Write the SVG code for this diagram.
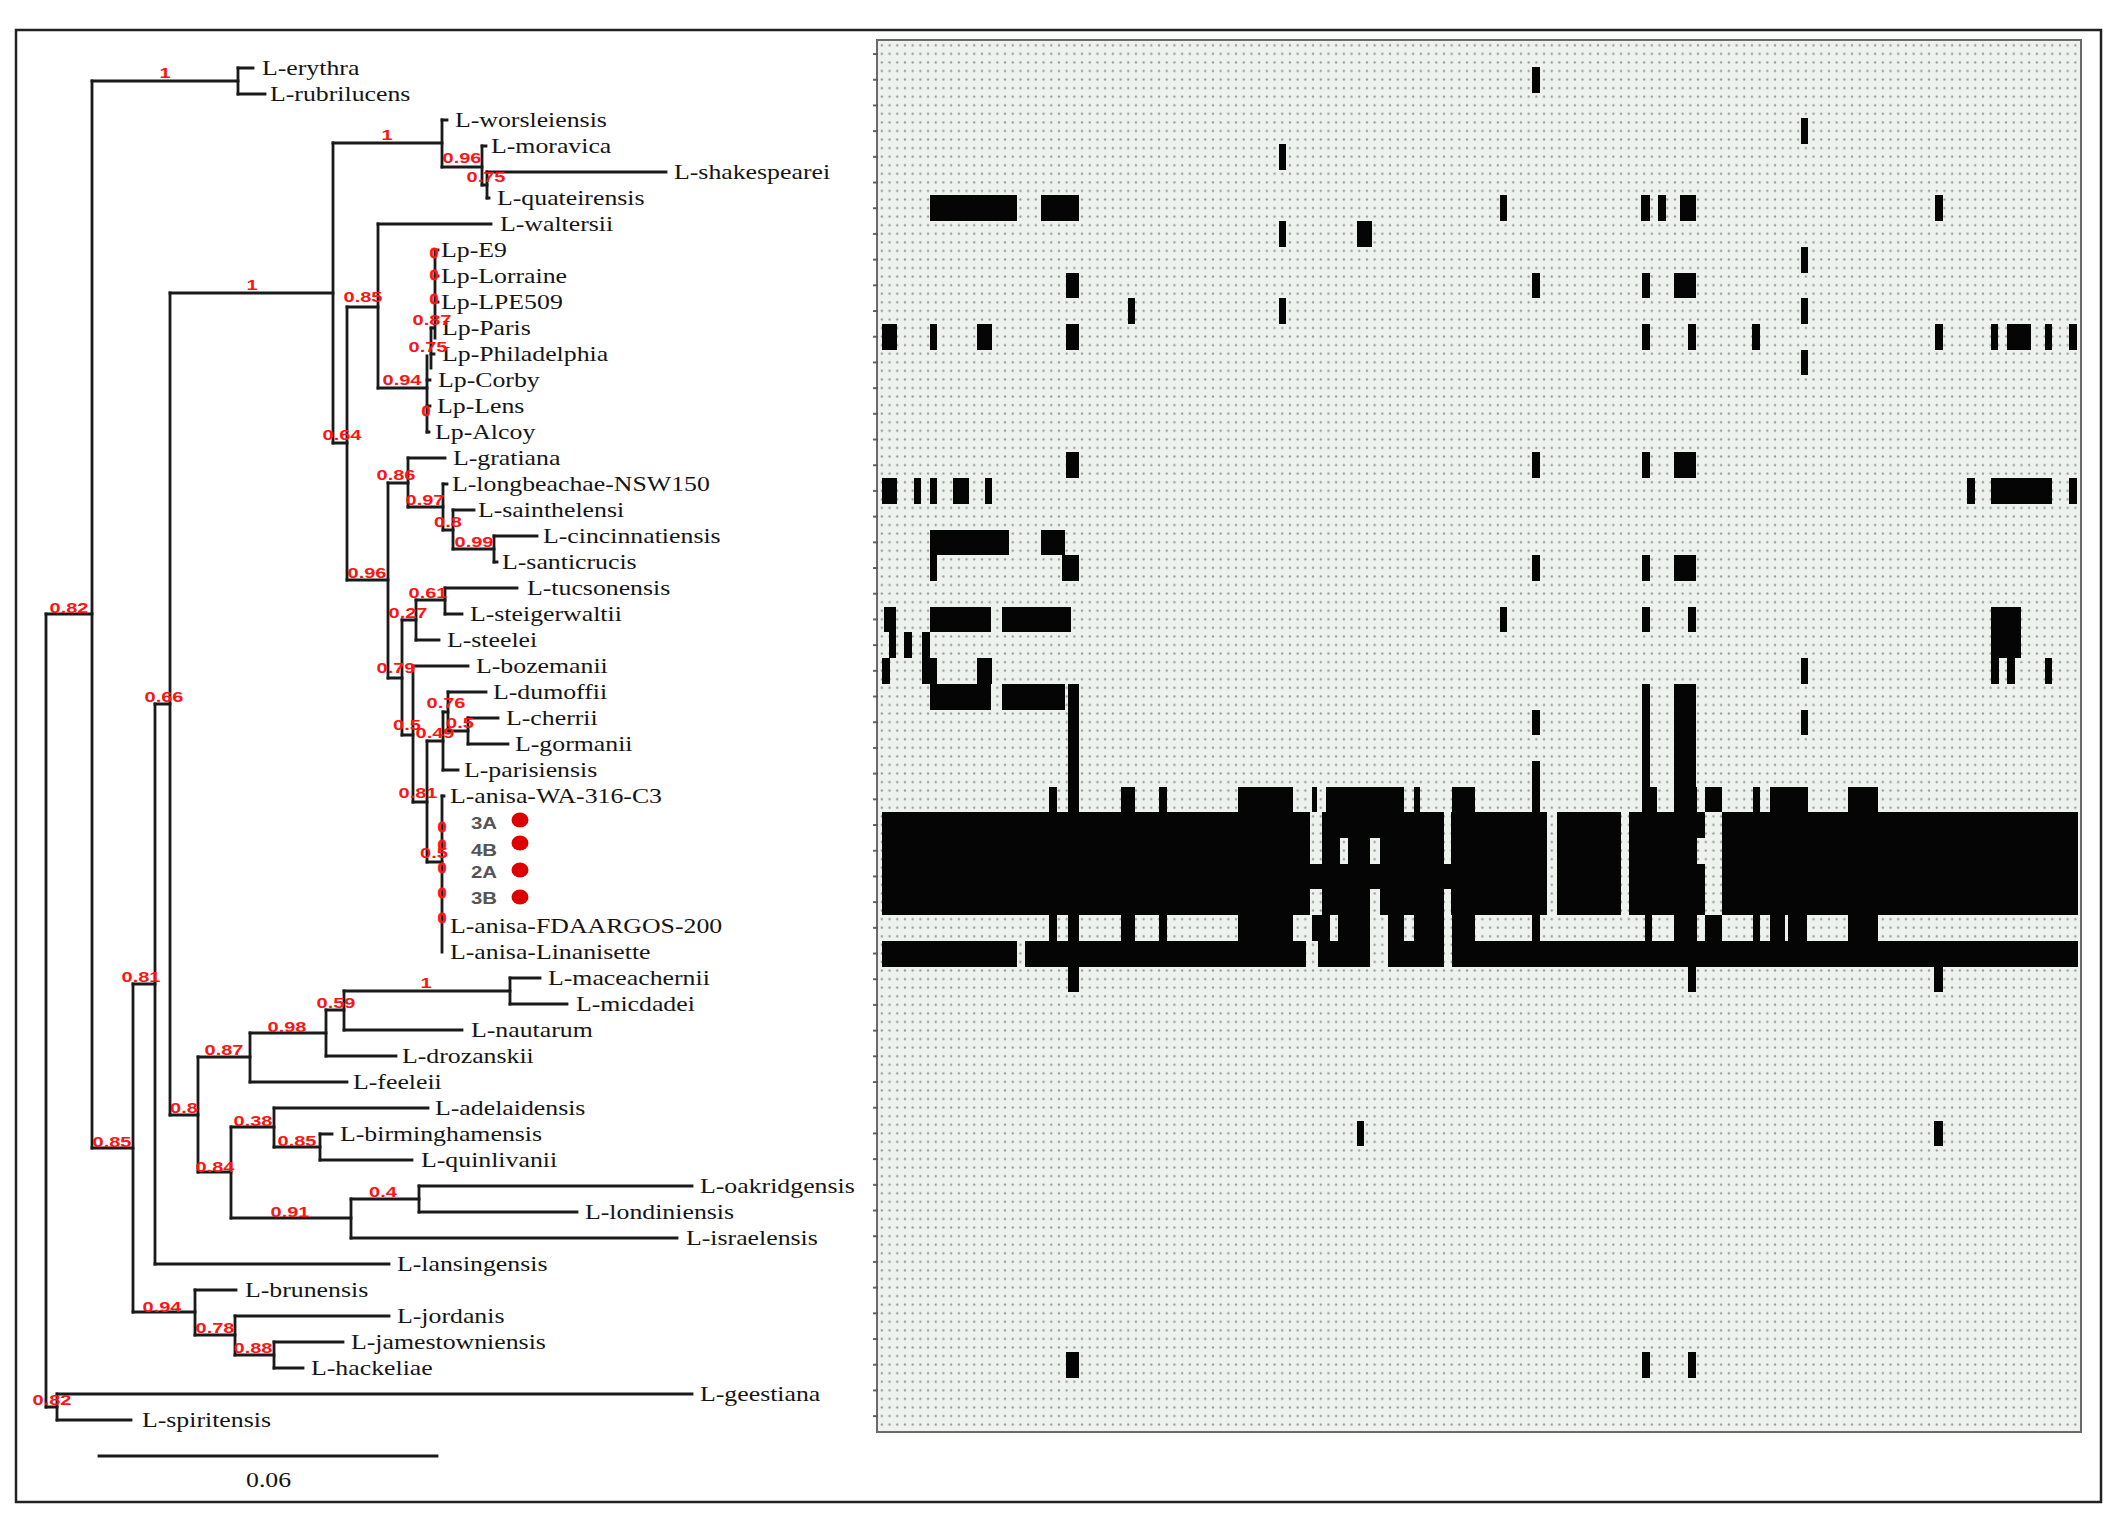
<svg xmlns="http://www.w3.org/2000/svg" width="2109" height="1515" viewBox="0 0 2109 1515">
<style>
.tip{font-family:"Liberation Serif","Times New Roman",serif;font-size:20px;fill:#151515;transform-box:fill-box;transform-origin:0 50%;transform:scaleX(1.29)}
.sup{font-family:"Liberation Sans",Arial,sans-serif;font-weight:bold;font-size:15.5px;fill:#ff1414;text-anchor:middle;transform-box:fill-box;transform-origin:50% 50%;transform:scaleX(1.29)}
.z{font-family:"Liberation Sans",Arial,sans-serif;font-weight:bold;font-size:15.5px;fill:#ff1414;stroke:#ff1414;stroke-width:0.8;text-anchor:middle}
.iso{font-family:"Liberation Sans",Arial,sans-serif;font-weight:bold;font-size:17px;fill:#555;transform-box:fill-box;transform-origin:0 50%;transform:scaleX(1.2)}
.br{fill:none;stroke:#1a1a1a;stroke-width:2.8;stroke-linecap:square}
.bar{fill:#050505}
.gap{fill:url(#dots)}
.dot{fill:#dd0000}
</style>
<defs>
<pattern id="dots" width="7.7" height="8.567" patternUnits="userSpaceOnUse" x="878" y="41">
<rect width="7.7" height="8.567" fill="#eef2ee"/>
<circle cx="3.85" cy="4.3" r="1.15" fill="#959a95"/>
</pattern>
<pattern id="ticks" width="6" height="25.7" patternUnits="userSpaceOnUse" x="873" y="41.15">
<rect x="0" y="12" width="5" height="1.8" fill="#555"/>
</pattern>
</defs>
<rect width="2109" height="1515" fill="#fff"/>
<rect x="16" y="30" width="2085" height="1472" fill="none" stroke="#222" stroke-width="2.5"/>

<g id="heatmap">
<rect x="877" y="40" width="1204" height="1392" fill="url(#dots)" stroke="#6a6a6a" stroke-width="2"/>
<rect x="873" y="41" width="5" height="1390" fill="url(#ticks)"/>
<g class="bar">
<rect x="1532" y="67" width="8" height="26"/>
<rect x="1801" y="118" width="7" height="26"/>
<rect x="1279" y="144" width="7" height="26"/>
<rect x="930" y="195" width="87" height="26"/><rect x="1041" y="195" width="38" height="26"/><rect x="1500" y="195" width="7" height="26"/><rect x="1641" y="195" width="9" height="26"/><rect x="1658" y="195" width="8" height="26"/><rect x="1680" y="195" width="16" height="26"/><rect x="1935" y="195" width="8" height="26"/>
<rect x="1279" y="221" width="7" height="26"/><rect x="1357" y="221" width="15" height="26"/>
<rect x="1801" y="247" width="7" height="26"/>
<rect x="1066" y="273" width="13" height="25"/><rect x="1532" y="273" width="8" height="25"/><rect x="1642" y="273" width="8" height="25"/><rect x="1674" y="273" width="22" height="25"/>
<rect x="1128" y="298" width="7" height="26"/><rect x="1279" y="298" width="7" height="26"/><rect x="1801" y="298" width="7" height="26"/>
<rect x="882" y="324" width="15" height="26"/><rect x="930" y="324" width="7" height="26"/><rect x="977" y="324" width="15" height="26"/><rect x="1066" y="324" width="13" height="26"/><rect x="1642" y="324" width="8" height="26"/><rect x="1688" y="324" width="8" height="26"/><rect x="1752" y="324" width="8" height="26"/><rect x="1935" y="324" width="8" height="26"/><rect x="1991" y="324" width="7" height="26"/><rect x="2007" y="324" width="24" height="26"/><rect x="2045" y="324" width="7" height="26"/><rect x="2069" y="324" width="8" height="26"/>
<rect x="1801" y="350" width="7" height="25"/>
<rect x="1066" y="452" width="13" height="26"/><rect x="1532" y="452" width="8" height="26"/><rect x="1642" y="452" width="8" height="26"/><rect x="1674" y="452" width="22" height="26"/>
<rect x="882" y="478" width="15" height="26"/><rect x="914" y="478" width="7" height="26"/><rect x="930" y="478" width="7" height="26"/><rect x="953" y="478" width="16" height="26"/><rect x="985" y="478" width="7" height="26"/><rect x="1967" y="478" width="8" height="26"/><rect x="1991" y="478" width="61" height="26"/><rect x="2069" y="478" width="8" height="26"/>
<rect x="930" y="530" width="79" height="25"/><rect x="1041" y="530" width="24" height="25"/>
<rect x="930" y="530" width="7" height="51"/><rect x="1062" y="555" width="17" height="26"/><rect x="1532" y="555" width="8" height="26"/><rect x="1642" y="555" width="8" height="26"/><rect x="1674" y="555" width="22" height="26"/>
<rect x="884" y="607" width="12" height="25"/><rect x="930" y="607" width="61" height="25"/><rect x="1002" y="607" width="69" height="25"/><rect x="1500" y="607" width="7" height="25"/><rect x="1642" y="607" width="8" height="25"/><rect x="1688" y="607" width="8" height="25"/><rect x="1991" y="607" width="30" height="51"/>
<rect x="889" y="632" width="7" height="26"/><rect x="904" y="632" width="8" height="26"/><rect x="922" y="632" width="8" height="26"/>
<rect x="882" y="658" width="8" height="26"/><rect x="922" y="658" width="15" height="26"/><rect x="977" y="658" width="15" height="26"/><rect x="1801" y="658" width="7" height="26"/><rect x="1991" y="658" width="8" height="26"/><rect x="2007" y="658" width="8" height="26"/><rect x="2045" y="658" width="7" height="26"/>
<rect x="930" y="684" width="61" height="26"/><rect x="1002" y="684" width="63" height="26"/><rect x="1642" y="684" width="8" height="103"/><rect x="1674" y="684" width="22" height="103"/>
<rect x="1068" y="684" width="11" height="308"/>
<rect x="1532" y="710" width="8" height="25"/><rect x="1801" y="710" width="7" height="25"/>
<rect x="1532" y="761" width="8" height="51"/>
<rect x="1049" y="787" width="8" height="25"/><rect x="1121" y="787" width="14" height="25"/><rect x="1159" y="787" width="8" height="25"/><rect x="1238" y="787" width="55" height="25"/><rect x="1312" y="787" width="5" height="25"/><rect x="1326" y="787" width="78" height="25"/><rect x="1414" y="787" width="6" height="25"/><rect x="1452" y="787" width="23" height="25"/><rect x="1642" y="787" width="15" height="25"/><rect x="1674" y="787" width="23" height="25"/><rect x="1705" y="787" width="17" height="25"/><rect x="1753" y="787" width="7" height="25"/><rect x="1770" y="787" width="38" height="25"/><rect x="1848" y="787" width="30" height="25"/>
<rect x="882" y="812" width="1196" height="103"/>
<rect x="1049" y="915" width="8" height="26"/><rect x="1121" y="915" width="14" height="26"/><rect x="1159" y="915" width="8" height="26"/><rect x="1238" y="915" width="55" height="26"/><rect x="1312" y="915" width="18" height="26"/><rect x="1338" y="915" width="32" height="26"/><rect x="1388" y="915" width="16" height="26"/><rect x="1414" y="915" width="30" height="26"/><rect x="1452" y="915" width="23" height="26"/><rect x="1532" y="915" width="8" height="26"/><rect x="1645" y="915" width="7" height="26"/><rect x="1674" y="915" width="23" height="26"/><rect x="1705" y="915" width="17" height="26"/><rect x="1753" y="915" width="7" height="26"/><rect x="1770" y="915" width="15" height="26"/><rect x="1788" y="915" width="19" height="26"/><rect x="1848" y="915" width="30" height="26"/>
<rect x="882" y="941" width="135" height="26"/><rect x="1025" y="941" width="281" height="26"/><rect x="1318" y="941" width="52" height="26"/><rect x="1388" y="941" width="56" height="26"/><rect x="1452" y="941" width="626" height="26"/>
<rect x="1688" y="967" width="8" height="25"/><rect x="1934" y="967" width="9" height="25"/>
<rect x="1357" y="1121" width="7" height="25"/><rect x="1934" y="1121" width="9" height="25"/>
<rect x="1066" y="1352" width="13" height="26"/><rect x="1642" y="1352" width="8" height="26"/><rect x="1688" y="1352" width="8" height="26"/>
</g>
<g class="gap">
<rect x="1310" y="812" width="12" height="52"/><rect x="1310" y="889" width="12" height="26"/>
<rect x="1340" y="838" width="8" height="26"/>
<rect x="1370" y="838" width="10" height="26"/><rect x="1370" y="889" width="10" height="26"/>
<rect x="1444" y="812" width="7" height="52"/><rect x="1444" y="889" width="7" height="26"/>
<rect x="1547" y="812" width="10" height="103"/>
<rect x="1621" y="812" width="8" height="103"/>
<rect x="1705" y="812" width="17" height="103"/><rect x="1697" y="838" width="8" height="26"/>
</g>
</g>

<g id="connectors">
<path class="br" d="M46 614V1407M57 1394V1420M92 81V1148M238 68V94M133 984V1312M155 704V1264M170 293V1115M333 143V443M442 120V167M482 146V185M487 172V198M347 307V580M378 224V388M388 483V678M408 458V507M443 484V530M453 510V549M494 536V562M402 620V735M416 600V640M445 588V614M413 666V802M427 741V862M443 712V770M448 692V731M468 718V744M442 796V952M435 250V338M431 328V368M427 356V432M198 1057V1172M250 1033V1082M326 1010V1056M344 991V1030M510 978V1004M231 1127V1218M274 1108V1147M320 1134V1160M351 1199V1238M419 1186V1212M195 1290V1335M235 1316V1355M274 1342V1368"/>
<path class="br" d="M46 614H92M46 1407H57M92 81H238M92 1148H133M133 984H155M133 1312H195M155 704H170M170 293H333M170 1115H198M333 143H442M333 443H347M442 167H482M482 185H487M347 307H378M347 580H388M378 388H427M388 483H408M388 678H402M408 507H443M443 530H453M453 549H494M402 620H416M402 735H413M416 600H445M413 802H427M427 741H443M427 862H442M443 712H448M448 731H468M198 1057H250M198 1172H231M250 1033H326M326 1010H344M344 991H510M231 1127H274M231 1218H351M274 1147H320M351 1199H419M195 1335H235M235 1355H274"/>
<path class="br" d="M238 68H253M238 94H265M442 120H447M482 146H486M487 172H666M487 198H489M378 224H491M435 250H438M435 276H438M435 302H438M431 328H434M431 354H434M427 380H430M427 406H430M427 432H429M408 458H445M443 484H447M453 510H474M494 536H537M494 562H497M445 588H517M445 614H462M416 640H439M413 666H468M448 692H486M468 718H498M468 744H508M443 770H458M442 796H444M510 978H540M510 1004H567M344 1030H462M326 1056H396M250 1082H347M274 1108H428M320 1134H332M320 1160H412M419 1186H692M419 1212H577M351 1238H677M155 1264H389M195 1290H236M235 1316H389M274 1342H343M274 1368H303M57 1394H692M57 1420H131"/>
<path class="br" d="M99 1456H437"/>
</g>

<g id="tips">
<g id="t1"><text class="tip" x="262" y="75">L-erythra</text></g>
<g id="t2"><text class="tip" x="270" y="101">L-rubrilucens</text></g>
<g id="t3"><text class="tip" x="455" y="127">L-worsleiensis</text></g>
<g id="t4"><text class="tip" x="491" y="153">L-moravica</text></g>
<g id="t5"><text class="tip" x="674" y="179">L-shakespearei</text></g>
<g id="t6"><text class="tip" x="497" y="205">L-quateirensis</text></g>
<g id="t7"><text class="tip" x="500" y="231">L-waltersii</text></g>
<g id="t8"><text class="tip" x="441" y="257">Lp-E9</text></g>
<g id="t9"><text class="tip" x="441" y="283">Lp-Lorraine</text></g>
<g id="t10"><text class="tip" x="441" y="309">Lp-LPE509</text></g>
<g id="t11"><text class="tip" x="442" y="335">Lp-Paris</text></g>
<g id="t12"><text class="tip" x="442" y="361">Lp-Philadelphia</text></g>
<g id="t13"><text class="tip" x="438" y="387">Lp-Corby</text></g>
<g id="t14"><text class="tip" x="437" y="413">Lp-Lens</text></g>
<g id="t15"><text class="tip" x="435" y="439">Lp-Alcoy</text></g>
<g id="t16"><text class="tip" x="453" y="465">L-gratiana</text></g>
<g id="t17"><text class="tip" x="452" y="491">L-longbeachae-NSW150</text></g>
<g id="t18"><text class="tip" x="478" y="517">L-sainthelensi</text></g>
<g id="t19"><text class="tip" x="543" y="543">L-cincinnatiensis</text></g>
<g id="t20"><text class="tip" x="502" y="569">L-santicrucis</text></g>
<g id="t21"><text class="tip" x="527" y="595">L-tucsonensis</text></g>
<g id="t22"><text class="tip" x="470" y="621">L-steigerwaltii</text></g>
<g id="t23"><text class="tip" x="447" y="647">L-steelei</text></g>
<g id="t24"><text class="tip" x="476" y="673">L-bozemanii</text></g>
<g id="t25"><text class="tip" x="493" y="699">L-dumoffii</text></g>
<g id="t26"><text class="tip" x="506" y="725">L-cherrii</text></g>
<g id="t27"><text class="tip" x="515" y="751">L-gormanii</text></g>
<g id="t28"><text class="tip" x="464" y="777">L-parisiensis</text></g>
<g id="t29"><text class="tip" x="450" y="803">L-anisa-WA-316-C3</text></g>
<g id="t30"><text class="iso" x="471" y="829">3A</text><ellipse class="dot" cx="520" cy="820" rx="8.5" ry="7.5"/></g>
<g id="t31"><text class="iso" x="471" y="856">4B</text><ellipse class="dot" cx="520" cy="843" rx="8.5" ry="7.5"/></g>
<g id="t32"><text class="iso" x="471" y="878">2A</text><ellipse class="dot" cx="520" cy="870" rx="8.5" ry="7.5"/></g>
<g id="t33"><text class="iso" x="471" y="904">3B</text><ellipse class="dot" cx="520" cy="897" rx="8.5" ry="7.5"/></g>
<g id="t34"><text class="tip" x="450" y="933">L-anisa-FDAARGOS-200</text></g>
<g id="t35"><text class="tip" x="450" y="959">L-anisa-Linanisette</text></g>
<g id="t36"><text class="tip" x="548" y="985">L-maceachernii</text></g>
<g id="t37"><text class="tip" x="576" y="1011">L-micdadei</text></g>
<g id="t38"><text class="tip" x="471" y="1037">L-nautarum</text></g>
<g id="t39"><text class="tip" x="402" y="1063">L-drozanskii</text></g>
<g id="t40"><text class="tip" x="353" y="1089">L-feeleii</text></g>
<g id="t41"><text class="tip" x="435" y="1115">L-adelaidensis</text></g>
<g id="t42"><text class="tip" x="340" y="1141">L-birminghamensis</text></g>
<g id="t43"><text class="tip" x="421" y="1167">L-quinlivanii</text></g>
<g id="t44"><text class="tip" x="700" y="1193">L-oakridgensis</text></g>
<g id="t45"><text class="tip" x="585" y="1219">L-londiniensis</text></g>
<g id="t46"><text class="tip" x="686" y="1245">L-israelensis</text></g>
<g id="t47"><text class="tip" x="397" y="1271">L-lansingensis</text></g>
<g id="t48"><text class="tip" x="245" y="1297">L-brunensis</text></g>
<g id="t49"><text class="tip" x="397" y="1323">L-jordanis</text></g>
<g id="t50"><text class="tip" x="351" y="1349">L-jamestowniensis</text></g>
<g id="t51"><text class="tip" x="311" y="1375">L-hackeliae</text></g>
<g id="t52"><text class="tip" x="700" y="1401">L-geestiana</text></g>
<g id="t53"><text class="tip" x="142" y="1427">L-spiritensis</text></g>
<g id="scale"><text class="tip" x="246" y="1487">0.06</text></g>
</g>

<g id="supports">
<g id="s1"><text class="sup" x="165" y="78">1</text></g>
<g id="s2"><text class="sup" x="387" y="140">1</text></g>
<g id="s3"><text class="sup" x="462" y="163">0.96</text></g>
<g id="s4"><text class="sup" x="486" y="182">0.75</text></g>
<g id="s5"><text class="sup" x="252" y="290">1</text></g>
<g id="s6"><text class="sup" x="363" y="302">0.85</text></g>
<g id="s7"><text class="z" x="434" y="258">0</text><text class="z" x="434" y="280">0</text><text class="z" x="434" y="304">0</text></g>
<g id="s8"><text class="sup" x="432" y="325">0.87</text></g>
<g id="s9"><text class="sup" x="428" y="352">0.75</text></g>
<g id="s10"><text class="sup" x="402" y="385">0.94</text></g>
<g id="s11"><text class="z" x="426" y="416">0</text></g>
<g id="s12"><text class="sup" x="342" y="440">0.64</text></g>
<g id="s13"><text class="sup" x="396" y="480">0.86</text></g>
<g id="s14"><text class="sup" x="425" y="505">0.97</text></g>
<g id="s15"><text class="sup" x="448" y="527">0.8</text></g>
<g id="s16"><text class="sup" x="474" y="547">0.99</text></g>
<g id="s17"><text class="sup" x="367" y="578">0.96</text></g>
<g id="s18"><text class="sup" x="428" y="598">0.61</text></g>
<g id="s19"><text class="sup" x="408" y="618">0.27</text></g>
<g id="s20"><text class="sup" x="396" y="673">0.79</text></g>
<g id="s21"><text class="sup" x="446" y="708">0.76</text></g>
<g id="s22"><text class="sup" x="407" y="730">0.5</text></g>
<g id="s23"><text class="sup" x="460" y="728">0.5</text></g>
<g id="s24"><text class="sup" x="435" y="738">0.49</text></g>
<g id="s25"><text class="sup" x="418" y="798">0.81</text></g>
<g id="s26"><text class="z" x="442" y="832">0</text><text class="z" x="442" y="850">0</text><text class="z" x="442" y="873">0</text><text class="z" x="442" y="898">0</text><text class="z" x="442" y="923">0</text></g>
<g id="s27"><text class="sup" x="434" y="858">0.5</text></g>
<g id="s28"><text class="sup" x="69" y="613">0.82</text></g>
<g id="s29"><text class="sup" x="164" y="702">0.66</text></g>
<g id="s30"><text class="sup" x="141" y="982">0.81</text></g>
<g id="s31"><text class="sup" x="426" y="988">1</text></g>
<g id="s32"><text class="sup" x="336" y="1008">0.59</text></g>
<g id="s33"><text class="sup" x="287" y="1032">0.98</text></g>
<g id="s34"><text class="sup" x="224" y="1055">0.87</text></g>
<g id="s35"><text class="sup" x="184" y="1113">0.8</text></g>
<g id="s36"><text class="sup" x="253" y="1126">0.38</text></g>
<g id="s37"><text class="sup" x="297" y="1146">0.85</text></g>
<g id="s38"><text class="sup" x="112" y="1147">0.85</text></g>
<g id="s39"><text class="sup" x="215" y="1172">0.84</text></g>
<g id="s40"><text class="sup" x="383" y="1197">0.4</text></g>
<g id="s41"><text class="sup" x="290" y="1217">0.91</text></g>
<g id="s42"><text class="sup" x="162" y="1312">0.94</text></g>
<g id="s43"><text class="sup" x="215" y="1333">0.78</text></g>
<g id="s44"><text class="sup" x="253" y="1353">0.88</text></g>
<g id="s45"><text class="sup" x="52" y="1405">0.82</text></g>
</g>
</svg>
